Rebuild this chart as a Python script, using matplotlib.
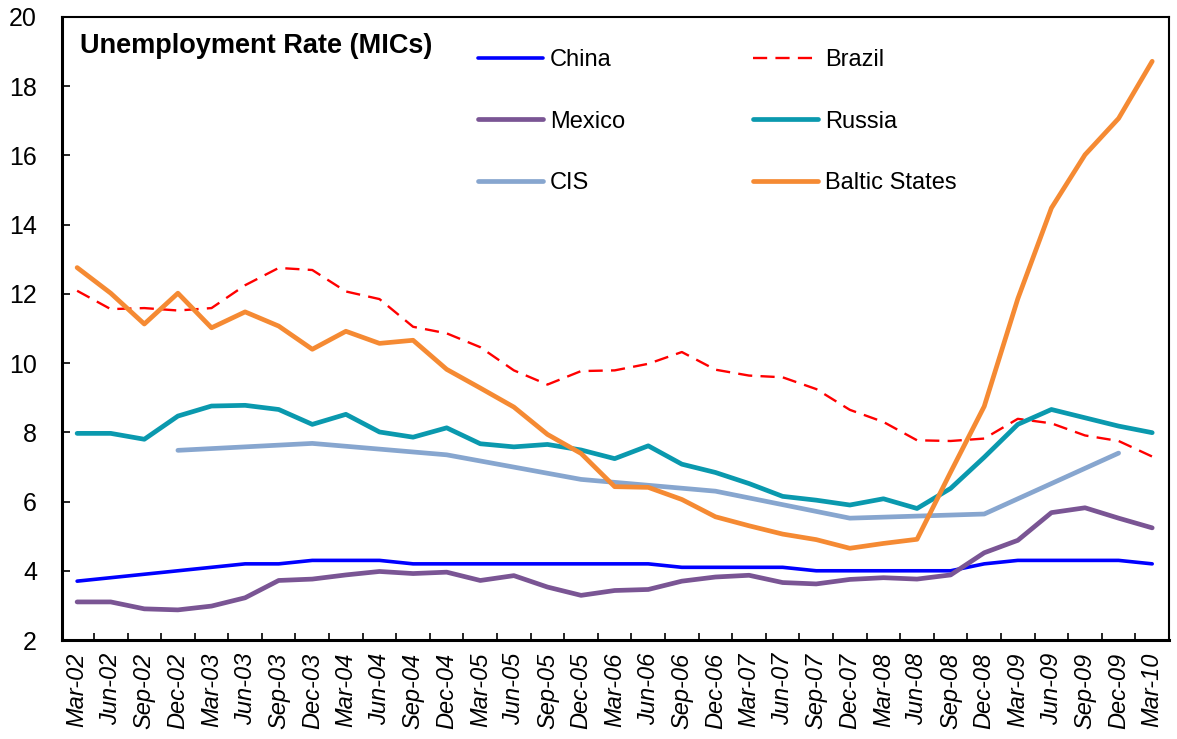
import matplotlib
matplotlib.use('Agg')  # no display
import matplotlib.pyplot as plt
from matplotlib.ticker import FixedLocator

plt.rcParams['font.family'] = ['Liberation Sans', 'DejaVu Sans']

# quarterly axis labels
quarters = ['Mar-02', 'Jun-02', 'Sep-02', 'Dec-02', 'Mar-03', 'Jun-03', 'Sep-03', 'Dec-03',
            'Mar-04', 'Jun-04', 'Sep-04', 'Dec-04', 'Mar-05', 'Jun-05', 'Sep-05', 'Dec-05',
            'Mar-06', 'Jun-06', 'Sep-06', 'Dec-06', 'Mar-07', 'Jun-07', 'Sep-07', 'Dec-07',
            'Mar-08', 'Jun-08', 'Sep-08', 'Dec-08', 'Mar-09', 'Jun-09', 'Sep-09', 'Dec-09',
            'Mar-10']

china = [3.7, 3.8, 3.9, 4.0, 4.1, 4.2, 4.2, 4.3, 4.3, 4.3, 4.2, 4.2, 4.2, 4.2, 4.2, 4.2,
         4.2, 4.2, 4.1, 4.1, 4.1, 4.1, 4.0, 4.0, 4.0, 4.0, 4.0, 4.2, 4.3, 4.3, 4.3, 4.3, 4.2]
brazil = [12.09, 11.56, 11.59, 11.52, 11.59, 12.25, 12.75, 12.69, 12.07, 11.85, 11.05, 10.86,
          10.46, 9.79, 9.38, 9.77, 9.79, 9.98, 10.32, 9.81, 9.64, 9.59, 9.25, 8.65,
          8.30, 7.77, 7.75, 7.82, 8.39, 8.26, 7.91, 7.75, 7.30]
mexico = [3.10, 3.10, 2.90, 2.87, 2.98, 3.22, 3.72, 3.76, 3.88, 3.98, 3.92, 3.96,
          3.72, 3.86, 3.53, 3.29, 3.43, 3.46, 3.70, 3.82, 3.87, 3.66, 3.62, 3.75,
          3.80, 3.76, 3.88, 4.52, 4.88, 5.68, 5.82, 5.52, 5.24]
russia = [7.97, 7.97, 7.80, 8.47, 8.76, 8.78, 8.66, 8.23, 8.52, 8.01, 7.86, 8.13,
          7.67, 7.58, 7.65, 7.49, 7.24, 7.61, 7.08, 6.84, 6.52, 6.15, 6.04, 5.90,
          6.08, 5.80, 6.38, 7.28, 8.23, 8.66, 8.42, 8.18, 7.99]
baltic = [12.76, 12.02, 11.13, 12.02, 11.02, 11.48, 11.07, 10.40, 10.92, 10.57, 10.66, 9.82,
          9.28, 8.73, 7.94, 7.39, 6.43, 6.41, 6.06, 5.56, 5.30, 5.06, 4.90, 4.65,
          4.79, 4.91, 6.85, 8.75, 11.86, 14.48, 16.02, 17.07, 18.72]
# CIS only has year-end (December) figures
cis_quarters = ['Dec-02', 'Dec-03', 'Dec-04', 'Dec-05', 'Dec-06', 'Dec-07', 'Dec-08', 'Dec-09']
cis = [7.48, 7.68, 7.35, 6.64, 6.30, 5.52, 5.64, 7.40]

x = list(range(len(quarters)))
cis_x = [quarters.index(q) for q in cis_quarters]

fig = plt.figure(figsize=(11.77, 7.39), dpi=100)
ax = fig.add_axes([62 / 1177, 1 - 640 / 739, (1169 - 62) / 1177, (640 - 17) / 739])

ax.plot(x, china, color='#0000FF', lw=2.6, solid_capstyle='round', label='China')
ax.plot(x, brazil, color='#FF0000', lw=1.7, dashes=(6, 3.5), label='Brazil')
ax.plot(x, mexico, color='#7A5594', lw=3.4, solid_capstyle='round', label='Mexico')
ax.plot(x, russia, color='#0A99AE', lw=3.4, solid_capstyle='round', label='Russia')
ax.plot(cis_x, cis, color='#87A6CF', lw=3.4, solid_capstyle='round', label='CIS')
ax.plot(x, baltic, color='#F58A33', lw=3.4, solid_capstyle='round', label='Baltic States')

ax.set_xlim(-0.45, 32.5)
ax.set_ylim(2, 20)
ax.set_yticks(range(2, 21, 2))
ax.tick_params(axis='y', direction='in', length=6, width=1.2, labelsize=18, pad=18)
ax.set_xticks(x)
ax.set_xticklabels(quarters, rotation=90, fontsize=17, style='italic')
ax.tick_params(axis='x', which='major', length=0, pad=9)
ax.xaxis.set_minor_locator(FixedLocator([i + 0.5 for i in x[:-1]]))
ax.tick_params(axis='x', which='minor', direction='in', length=5, width=1.2)

for side in ['left', 'bottom']:
    ax.spines[side].set_linewidth(2.2)
for side in ['top', 'right']:
    ax.spines[side].set_linewidth(1.5)

fig.text(80 / 1177, 1 - 46 / 739, 'Unemployment Rate (MICs)', fontsize=19.5,
         fontweight='bold', va='center', ha='left')

# legend: columns filled top to bottom
handles, labels = ax.get_legend_handles_labels()
order = ['China', 'Mexico', 'CIS', 'Brazil', 'Russia', 'Baltic States']
hmap = dict(zip(labels, handles))
ax.legend([hmap[k] for k in order], order, ncol=2, loc='upper left',
          bbox_to_anchor=(478 / 1177, 1 - 49 / 739), bbox_transform=fig.transFigure,
          frameon=False, fontsize=17, handlelength=2.75, handletextpad=0.3,
          columnspacing=5.4, labelspacing=1.68, borderpad=0, borderaxespad=0)

plt.savefig('out.png', dpi=100)
plt.close()
